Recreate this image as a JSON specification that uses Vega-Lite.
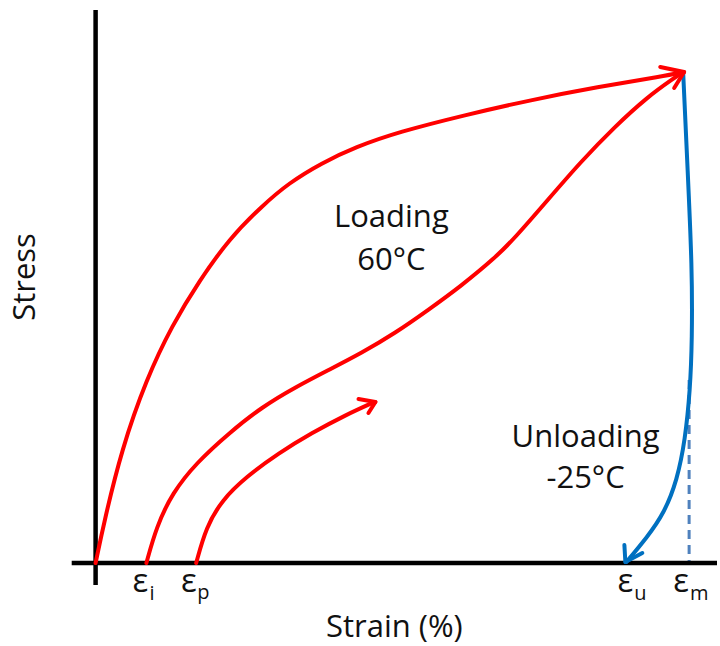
{
  "$schema": "https://vega.github.io/schema/vega-lite/v6.json",
  "width": 720,
  "height": 646,
  "autosize": {"type": "fit", "contains": "padding"},
  "padding": 0,
  "background": "white",
  "config": {"view": {"stroke": null}},
  "datasets": {
    "curves": [
      {"curve": "c1", "kind": "loading", "i": 0, "strain": 0.0, "stress": 0.0},
      {"curve": "c1", "kind": "loading", "i": 1, "strain": 0.09, "stress": 0.43},
      {"curve": "c1", "kind": "loading", "i": 2, "strain": 0.26, "stress": 1.13},
      {"curve": "c1", "kind": "loading", "i": 3, "strain": 0.51, "stress": 1.84},
      {"curve": "c1", "kind": "loading", "i": 4, "strain": 0.77, "stress": 2.38},
      {"curve": "c1", "kind": "loading", "i": 5, "strain": 1.04, "stress": 2.82},
      {"curve": "c1", "kind": "loading", "i": 6, "strain": 1.34, "stress": 3.24},
      {"curve": "c1", "kind": "loading", "i": 7, "strain": 1.67, "stress": 3.57},
      {"curve": "c1", "kind": "loading", "i": 8, "strain": 1.94, "stress": 3.8},
      {"curve": "c1", "kind": "loading", "i": 9, "strain": 2.27, "stress": 4.0},
      {"curve": "c1", "kind": "loading", "i": 10, "strain": 2.61, "stress": 4.16},
      {"curve": "c1", "kind": "loading", "i": 11, "strain": 3.04, "stress": 4.31},
      {"curve": "c1", "kind": "loading", "i": 12, "strain": 3.71, "stress": 4.48},
      {"curve": "c1", "kind": "loading", "i": 13, "strain": 4.37, "stress": 4.63},
      {"curve": "c1", "kind": "loading", "i": 14, "strain": 5.04, "stress": 4.76},
      {"curve": "c1", "kind": "loading", "i": 15, "strain": 5.71, "stress": 4.87},
      {"curve": "c1", "kind": "loading", "i": 16, "strain": 5.9, "stress": 4.91},
      {"curve": "c2", "kind": "loading", "i": 0, "strain": 0.51, "stress": 0.0},
      {"curve": "c2", "kind": "loading", "i": 1, "strain": 0.61, "stress": 0.36},
      {"curve": "c2", "kind": "loading", "i": 2, "strain": 0.77, "stress": 0.7},
      {"curve": "c2", "kind": "loading", "i": 3, "strain": 1.01, "stress": 1.0},
      {"curve": "c2", "kind": "loading", "i": 4, "strain": 1.34, "stress": 1.3},
      {"curve": "c2", "kind": "loading", "i": 5, "strain": 1.67, "stress": 1.56},
      {"curve": "c2", "kind": "loading", "i": 6, "strain": 2.01, "stress": 1.76},
      {"curve": "c2", "kind": "loading", "i": 7, "strain": 2.34, "stress": 1.93},
      {"curve": "c2", "kind": "loading", "i": 8, "strain": 2.67, "stress": 2.1},
      {"curve": "c2", "kind": "loading", "i": 9, "strain": 3.01, "stress": 2.3},
      {"curve": "c2", "kind": "loading", "i": 10, "strain": 3.34, "stress": 2.53},
      {"curve": "c2", "kind": "loading", "i": 11, "strain": 3.67, "stress": 2.77},
      {"curve": "c2", "kind": "loading", "i": 12, "strain": 4.01, "stress": 3.05},
      {"curve": "c2", "kind": "loading", "i": 13, "strain": 4.21, "stress": 3.25},
      {"curve": "c2", "kind": "loading", "i": 14, "strain": 4.54, "stress": 3.63},
      {"curve": "c2", "kind": "loading", "i": 15, "strain": 4.87, "stress": 4.01},
      {"curve": "c2", "kind": "loading", "i": 16, "strain": 5.21, "stress": 4.36},
      {"curve": "c2", "kind": "loading", "i": 17, "strain": 5.54, "stress": 4.66},
      {"curve": "c2", "kind": "loading", "i": 18, "strain": 5.81, "stress": 4.85},
      {"curve": "c2", "kind": "loading", "i": 19, "strain": 5.9, "stress": 4.91},
      {"curve": "c3", "kind": "loading", "i": 0, "strain": 1.01, "stress": 0.0},
      {"curve": "c3", "kind": "loading", "i": 1, "strain": 1.11, "stress": 0.36},
      {"curve": "c3", "kind": "loading", "i": 2, "strain": 1.27, "stress": 0.63},
      {"curve": "c3", "kind": "loading", "i": 3, "strain": 1.51, "stress": 0.86},
      {"curve": "c3", "kind": "loading", "i": 4, "strain": 1.84, "stress": 1.1},
      {"curve": "c3", "kind": "loading", "i": 5, "strain": 2.17, "stress": 1.3},
      {"curve": "c3", "kind": "loading", "i": 6, "strain": 2.51, "stress": 1.48},
      {"curve": "c3", "kind": "loading", "i": 7, "strain": 2.8, "stress": 1.61},
      {"curve": "c4", "kind": "unloading", "i": 0, "strain": 5.9, "stress": 4.91},
      {"curve": "c4", "kind": "unloading", "i": 1, "strain": 5.945, "stress": 3.93},
      {"curve": "c4", "kind": "unloading", "i": 2, "strain": 5.99, "stress": 2.96},
      {"curve": "c4", "kind": "unloading", "i": 3, "strain": 5.99, "stress": 2.23},
      {"curve": "c4", "kind": "unloading", "i": 4, "strain": 5.97, "stress": 1.73},
      {"curve": "c4", "kind": "unloading", "i": 5, "strain": 5.92, "stress": 1.23},
      {"curve": "c4", "kind": "unloading", "i": 6, "strain": 5.84, "stress": 0.83},
      {"curve": "c4", "kind": "unloading", "i": 7, "strain": 5.71, "stress": 0.5},
      {"curve": "c4", "kind": "unloading", "i": 8, "strain": 5.54, "stress": 0.26},
      {"curve": "c4", "kind": "unloading", "i": 9, "strain": 5.33, "stress": 0.01}
    ],
    "segments": [
      {"kind": "axis", "strain": 0, "stress": 5.53, "strain2": 0, "stress2": -0.22},
      {"kind": "axis", "strain": -0.24, "stress": 0, "strain2": 6.24, "stress2": 0},
      {"kind": "loading", "strain": 5.91, "stress": 4.91, "strain2": 5.67, "stress2": 4.96},
      {"kind": "loading", "strain": 5.91, "stress": 4.91, "strain2": 5.81, "stress2": 4.75},
      {"kind": "loading", "strain": 2.81, "stress": 1.61, "strain2": 2.64, "stress2": 1.64},
      {"kind": "loading", "strain": 2.81, "stress": 1.61, "strain2": 2.74, "stress2": 1.5},
      {"kind": "unloading", "strain": 5.32, "stress": 0.01, "strain2": 5.31, "stress2": 0.18},
      {"kind": "unloading", "strain": 5.32, "stress": 0.01, "strain2": 5.49, "stress2": 0.1},
      {"kind": "marker", "strain": 5.96, "stress": 1.83, "strain2": 5.96, "stress2": 0}
    ],
    "labels": [
      {"role": "main", "text": "Loading", "strain": 2.97, "stress": 3.36},
      {"role": "main", "text": "60°C", "strain": 2.97, "stress": 2.93},
      {"role": "main", "text": "Unloading", "strain": 4.92, "stress": 1.16},
      {"role": "main", "text": "-25°C", "strain": 4.92, "stress": 0.75},
      {"role": "main", "text": "Strain (%)", "strain": 3.0, "stress": -0.74},
      {"role": "eps", "text": "ε", "strain": 0.53, "stress": -0.29},
      {"role": "eps", "text": "ε", "strain": 1.015, "stress": -0.29},
      {"role": "eps", "text": "ε", "strain": 5.4, "stress": -0.29},
      {"role": "eps", "text": "ε", "strain": 5.96, "stress": -0.29},
      {"role": "sub", "text": "i", "strain": 0.54, "stress": -0.37},
      {"role": "sub", "text": "p", "strain": 1.02, "stress": -0.36},
      {"role": "sub", "text": "u", "strain": 5.41, "stress": -0.37},
      {"role": "sub", "text": "m", "strain": 5.97, "stress": -0.37},
      {"role": "ylab", "text": "Stress", "strain": -0.7, "stress": 2.86}
    ]
  },
  "encoding": {
    "x": {"field": "strain", "type": "quantitative", "scale": {"domain": [-0.96, 6.24], "nice": false, "zero": false}, "axis": null},
    "y": {"field": "stress", "type": "quantitative", "scale": {"domain": [-0.83, 5.63], "nice": false, "zero": false}, "axis": null}
  },
  "layer": [
    {
      "data": {"name": "segments"},
      "transform": [{"filter": "datum.kind === 'marker'"}],
      "mark": {"type": "rule", "color": "#4f81bd", "strokeWidth": 3, "strokeDash": [9, 6]},
      "encoding": {"x2": {"field": "strain2"}, "y2": {"field": "stress2"}}
    },
    {
      "data": {"name": "segments"},
      "transform": [{"filter": "datum.kind === 'axis'"}],
      "mark": {"type": "rule", "color": "#000000", "strokeWidth": 4.5},
      "encoding": {"x2": {"field": "strain2"}, "y2": {"field": "stress2"}}
    },
    {
      "data": {"name": "curves"},
      "mark": {"type": "line", "strokeWidth": 4, "interpolate": "basis", "strokeCap": "round", "strokeJoin": "round"},
      "encoding": {
        "order": {"field": "i", "type": "quantitative"},
        "detail": {"field": "curve", "type": "nominal"},
        "color": {"field": "kind", "type": "nominal", "scale": {"domain": ["loading", "unloading"], "range": ["#ff0000", "#0070c0"]}, "legend": null}
      }
    },
    {
      "data": {"name": "segments"},
      "transform": [{"filter": "datum.kind === 'loading' || datum.kind === 'unloading'"}],
      "mark": {"type": "rule", "strokeWidth": 4, "strokeCap": "round"},
      "encoding": {
        "x2": {"field": "strain2"}, "y2": {"field": "stress2"},
        "color": {"field": "kind", "type": "nominal", "scale": {"domain": ["loading", "unloading"], "range": ["#ff0000", "#0070c0"]}, "legend": null}
      }
    },
    {
      "data": {"name": "labels"},
      "transform": [{"filter": "datum.role === 'main'"}],
      "mark": {"type": "text", "font": "Open Sans", "fontSize": 31, "align": "center", "baseline": "alphabetic", "color": "#111111"},
      "encoding": {"text": {"field": "text"}}
    },
    {
      "data": {"name": "labels"},
      "transform": [{"filter": "datum.role === 'eps'"}],
      "mark": {"type": "text", "font": "Open Sans", "fontSize": 33, "align": "right", "baseline": "alphabetic", "color": "#111111"},
      "encoding": {"text": {"field": "text"}}
    },
    {
      "data": {"name": "labels"},
      "transform": [{"filter": "datum.role === 'sub'"}],
      "mark": {"type": "text", "font": "Open Sans", "fontSize": 20, "align": "left", "baseline": "alphabetic", "color": "#111111"},
      "encoding": {"text": {"field": "text"}}
    },
    {
      "data": {"name": "labels"},
      "transform": [{"filter": "datum.role === 'ylab'"}],
      "mark": {"type": "text", "font": "Open Sans", "fontSize": 31, "align": "center", "baseline": "middle", "angle": 270, "color": "#111111"},
      "encoding": {"text": {"field": "text"}}
    }
  ]
}
